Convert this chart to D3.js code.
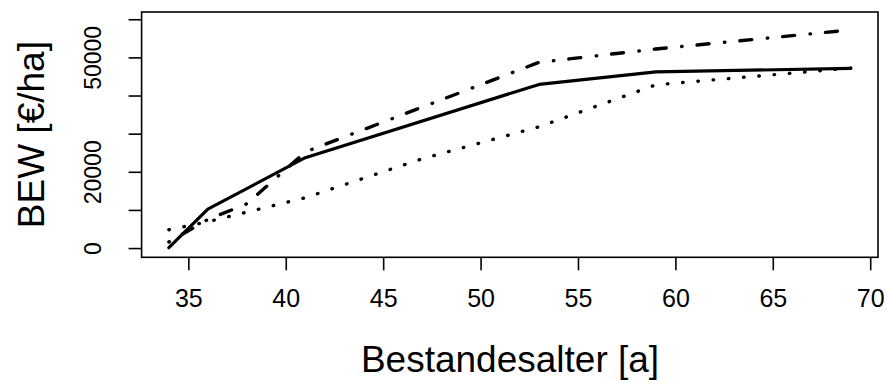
<!DOCTYPE html>
<html>
<head>
<meta charset="utf-8">
<script src="https://cdn.jsdelivr.net/npm/d3@7"></script>
<style>
  html, body { margin: 0; padding: 0; background: #fff; }
  svg { display: block; }
  text { font-family: "Liberation Sans", Arial, Helvetica, sans-serif; fill: #000; }
</style>
</head>
<body>
<svg id="chart" width="887" height="385"></svg>
<script>
// ---- data ----
const agesSolid   = [34, 36, 41, 53, 59, 69];
const valuesSolid = [100, 10200, 23700, 42900, 46200, 47100];

const agesDashDot   = [34, 36, 38, 41, 53, 59, 69];
const valuesDashDot = [1600, 7500, 11600, 25200, 48700, 52200, 57200];

const agesDotted   = [34, 36, 41, 47, 53, 59, 69];
const valuesDotted = [4800, 6900, 13200, 23400, 31800, 42800, 47200];

const xTicks = [35, 40, 45, 50, 55, 60, 65, 70];
const yTicks = [0, 10000, 20000, 30000, 40000, 50000, 60000];
const yTickLabelsShown = [0, 20000, 50000];

const xTitle = "Bestandesalter [a]";
const yTitle = "BEW [€/ha]";

// ---- layout ----
const plot = { left: 141.6, right: 878, top: 12, bottom: 257.3 };
const svg = d3.select("#chart");

const x = d3.scaleLinear().domain([32.6, 70.4]).range([plot.left, plot.right]);
const y = d3.scaleLinear().domain([-2420, 61900]).range([plot.bottom, plot.top]);

// box
svg.append("rect")
  .attr("x", plot.left).attr("y", plot.top)
  .attr("width", plot.right - plot.left).attr("height", plot.bottom - plot.top)
  .attr("fill", "none").attr("stroke", "#000").attr("stroke-width", 1.6);

// x axis
const xAxis = d3.axisBottom(x).tickValues(xTicks).tickSize(13).tickPadding(19).tickFormat(d3.format("d"));
const gx = svg.append("g").attr("transform", `translate(0,${plot.bottom})`).call(xAxis);
gx.select(".domain").remove();
gx.selectAll(".tick line").attr("stroke", "#000").attr("stroke-width", 1.6);
gx.selectAll(".tick text").attr("font-size", 25).attr("font-family", "Liberation Sans, Arial, sans-serif");

// y axis
const yAxis = d3.axisLeft(y).tickValues(yTicks).tickSize(13).tickPadding(0)
  .tickFormat(d => yTickLabelsShown.includes(d) ? String(d) : "");
const gy = svg.append("g").attr("transform", `translate(${plot.left},0)`).call(yAxis);
gy.select(".domain").remove();
gy.selectAll(".tick line").attr("stroke", "#000").attr("stroke-width", 1.6);
gy.selectAll(".tick text")
  .attr("font-size", 23)
  .attr("font-family", "Liberation Sans, Arial, sans-serif")
  .attr("text-anchor", "middle")
  .attr("dy", 0)
  .attr("x", 0)
  .attr("transform", "translate(-41,0) rotate(-90)");

// titles
svg.append("text")
  .attr("x", 510).attr("y", 372)
  .attr("text-anchor", "middle")
  .attr("font-size", 37)
  .text(xTitle);

svg.append("text")
  .attr("transform", `translate(44,${(plot.top + plot.bottom) / 2}) rotate(-90)`)
  .attr("text-anchor", "middle")
  .attr("font-size", 37)
  .text(yTitle);

// lines
const line = d3.line().x(d => x(d[0])).y(d => y(d[1]));
function drawSeries(ages, vals, dash, w) {
  const pts = ages.map((a, i) => [a, vals[i]]);
  svg.append("path")
    .attr("d", line(pts))
    .attr("fill", "none")
    .attr("stroke", "#000")
    .attr("stroke-width", w)
    .attr("stroke-linecap", "round")
    .attr("stroke-linejoin", "round")
    .attr("stroke-dasharray", dash);
}
drawSeries(agesDotted, valuesDotted, "0.5,14.8", 3.4);
drawSeries(agesDashDot, valuesDashDot, "0.5,15,12,15.5", 3.4);
drawSeries(agesSolid, valuesSolid, null, 3.2);
</script>
</body>
</html>
